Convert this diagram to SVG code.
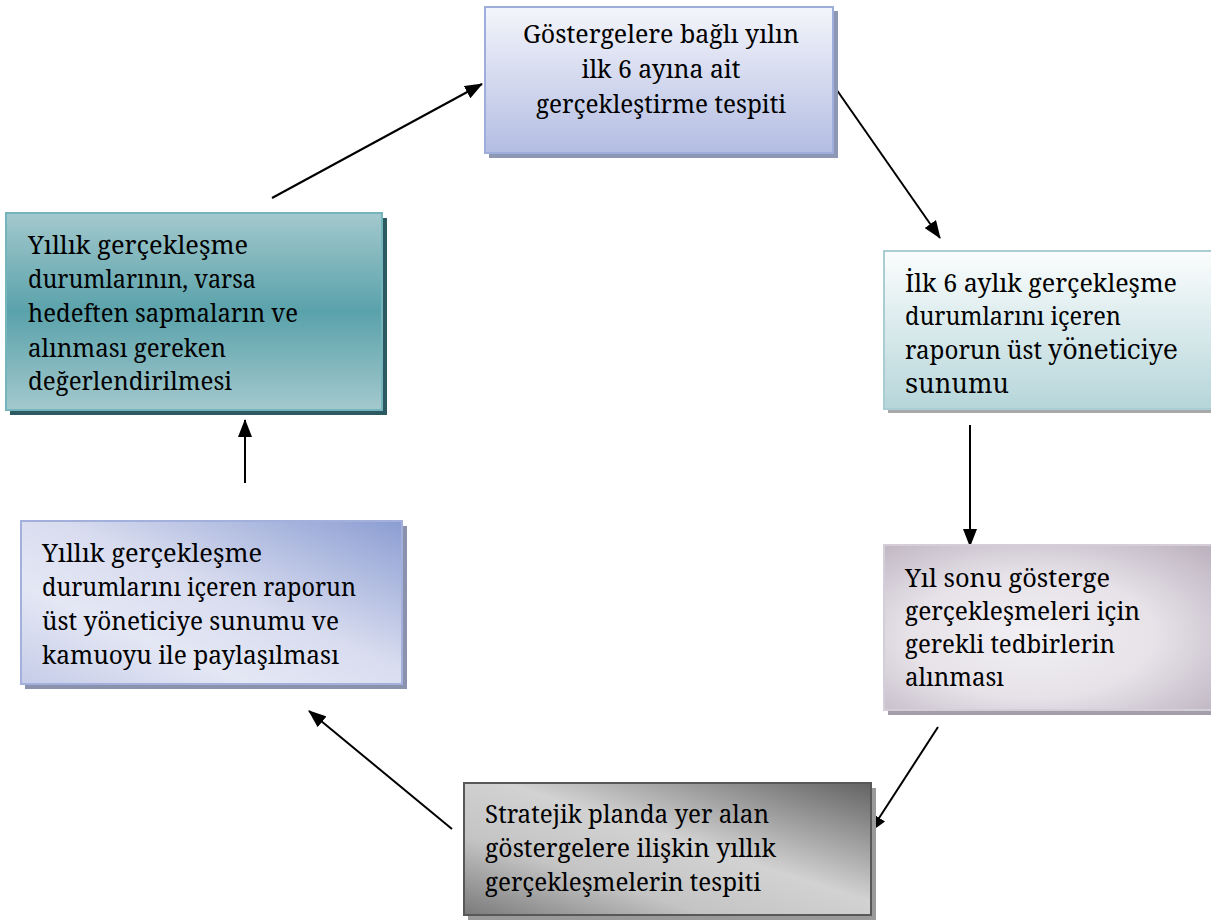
<svg xmlns="http://www.w3.org/2000/svg" width="1211" height="922" viewBox="0 0 1211 922">
<style>
.t{font-family:'Noto Serif','Liberation Serif',serif;font-size:26px;fill:#000}
.c{text-anchor:middle}
.big{font-family:'DejaVu Serif','Noto Serif',serif;font-size:27px}
.con{stroke:#000;stroke-width:2;fill:none;marker-end:url(#ah)}
</style>
<defs>
<marker id="ah" markerUnits="userSpaceOnUse" markerWidth="18" markerHeight="14" refX="17" refY="7" orient="auto">
<path d="M0,0 L18,7 L0,14 Z" fill="#000"/>
</marker>
<linearGradient id="g1" x1="0" y1="0" x2="0" y2="1">
<stop offset="0" stop-color="#f4f5fb"/><stop offset="1" stop-color="#b3bde2"/>
</linearGradient>
<linearGradient id="g2" x1="0" y1="0" x2="0" y2="1">
<stop offset="0" stop-color="#a3c9cd"/><stop offset="0.5" stop-color="#5aa2ab"/><stop offset="1" stop-color="#a3c9cd"/>
</linearGradient>
<linearGradient id="g3" x1="0" y1="0" x2="0" y2="1">
<stop offset="0" stop-color="#fbfdfd"/><stop offset="1" stop-color="#b6d6da"/>
</linearGradient>
<radialGradient id="g4" cx="0.45" cy="0.55" r="0.75">
<stop offset="0" stop-color="#f2f0f4"/><stop offset="0.5" stop-color="#e6e2e8"/><stop offset="1" stop-color="#bcb2c0"/>
</radialGradient>
<linearGradient id="g5" x1="1" y1="0" x2="0" y2="1">
<stop offset="0" stop-color="#8b9dd2"/><stop offset="0.45" stop-color="#d8dcef"/><stop offset="0.7" stop-color="#e4e7f4"/><stop offset="1" stop-color="#c5cce8"/>
</linearGradient>
<linearGradient id="g6" x1="1" y1="0" x2="0" y2="1">
<stop offset="0" stop-color="#636363"/><stop offset="0.45" stop-color="#d2d2d2"/><stop offset="0.7" stop-color="#c4c4c4"/><stop offset="1" stop-color="#7a7a7a"/>
</linearGradient>
</defs>

<g id="connectors">
<line class="con" x1="272" y1="198" x2="482" y2="84"/>
<line class="con" x1="834" y1="86" x2="940" y2="238"/>
<line class="con" x1="970" y1="425" x2="970" y2="546"/>
<line class="con" x1="938" y1="727" x2="870" y2="832"/>
<line class="con" x1="452" y1="829" x2="309" y2="711"/>
<line class="con" x1="245" y1="483" x2="245" y2="420"/>
</g>

<g id="node1">
<rect x="489" y="11" width="349" height="147" fill="#8e97b4"/>
<rect x="485" y="7" width="348" height="146" fill="url(#g1)" stroke="#9eaddb" stroke-width="2"/>
<text class="t c" x="661" y="43" textLength="276" lengthAdjust="spacingAndGlyphs">Göstergelere bağlı yılın</text>
<text class="t c" x="661" y="78" textLength="159" lengthAdjust="spacingAndGlyphs">ilk 6 ayına ait</text>
<text class="t c" x="661" y="113" textLength="250" lengthAdjust="spacingAndGlyphs">gerçekleştirme tespiti</text>
</g>

<g id="node2">
<rect x="10" y="218" width="377" height="197" fill="#2d5a61"/>
<rect x="6" y="213" width="376" height="197" fill="url(#g2)" stroke="#74b4bc" stroke-width="2"/>
<text class="t" x="28" y="254" textLength="220" lengthAdjust="spacingAndGlyphs">Yıllık gerçekleşme</text>
<text class="t" x="28" y="288" textLength="228" lengthAdjust="spacingAndGlyphs">durumlarının, varsa</text>
<text class="t" x="28" y="322" textLength="270" lengthAdjust="spacingAndGlyphs">hedeften sapmaların ve</text>
<text class="t" x="28" y="357" textLength="198" lengthAdjust="spacingAndGlyphs">alınması gereken</text>
<text class="t" x="28" y="390" textLength="204" lengthAdjust="spacingAndGlyphs">değerlendirilmesi</text>
</g>

<g id="node3">
<rect x="888" y="255" width="330" height="158" fill="#a9a9a9"/>
<rect x="884" y="251" width="330" height="158" fill="url(#g3)" stroke="#a9cdd2" stroke-width="2"/>
<text class="t" x="905" y="292" textLength="272" lengthAdjust="spacingAndGlyphs">İlk 6 aylık gerçekleşme</text>
<text class="t" x="905" y="325" textLength="216" lengthAdjust="spacingAndGlyphs">durumlarını içeren</text>
<text class="t" x="905" y="359" textLength="273" lengthAdjust="spacingAndGlyphs">raporun üst <tspan class="big">yöneticiye</tspan></text>
<text class="t" x="905" y="393" textLength="104" lengthAdjust="spacingAndGlyphs"><tspan class="big">sunumu</tspan></text>
</g>

<g id="node4">
<rect x="888" y="550" width="330" height="165" fill="#a49ea8"/>
<rect x="884" y="545" width="330" height="165" fill="url(#g4)" stroke="#d4ced8" stroke-width="2"/>
<text class="t" x="905" y="587" textLength="205" lengthAdjust="spacingAndGlyphs">Yıl sonu gösterge</text>
<text class="t" x="905" y="620" textLength="235" lengthAdjust="spacingAndGlyphs">gerçekleşmeleri için</text>
<text class="t" x="905" y="653" textLength="210" lengthAdjust="spacingAndGlyphs">gerekli tedbirlerin</text>
<text class="t" x="905" y="686" textLength="99" lengthAdjust="spacingAndGlyphs">alınması</text>
</g>

<g id="node5">
<rect x="25" y="526" width="382" height="163" fill="#8a92ad"/>
<rect x="21" y="521" width="381" height="163" fill="url(#g5)" stroke="#a3b0dc" stroke-width="2"/>
<text class="t" x="42" y="562" textLength="220" lengthAdjust="spacingAndGlyphs">Yıllık gerçekleşme</text>
<text class="t" x="42" y="596" textLength="314" lengthAdjust="spacingAndGlyphs">durumlarını içeren raporun</text>
<text class="t" x="42" y="630" textLength="297" lengthAdjust="spacingAndGlyphs">üst yöneticiye sunumu ve</text>
<text class="t" x="42" y="664" textLength="297" lengthAdjust="spacingAndGlyphs">kamuoyu ile paylaşılması</text>
</g>

<g id="node6">
<rect x="468" y="788" width="408" height="132" fill="#9a9a9a"/>
<rect x="464" y="783" width="407" height="132" fill="url(#g6)" stroke="#585858" stroke-width="2"/>
<text class="t" x="485" y="823" textLength="284" lengthAdjust="spacingAndGlyphs">Stratejik planda yer alan</text>
<text class="t" x="485" y="857" textLength="291" lengthAdjust="spacingAndGlyphs">göstergelere ilişkin yıllık</text>
<text class="t" x="485" y="891" textLength="276" lengthAdjust="spacingAndGlyphs">gerçekleşmelerin tespiti</text>
</g>
</svg>
